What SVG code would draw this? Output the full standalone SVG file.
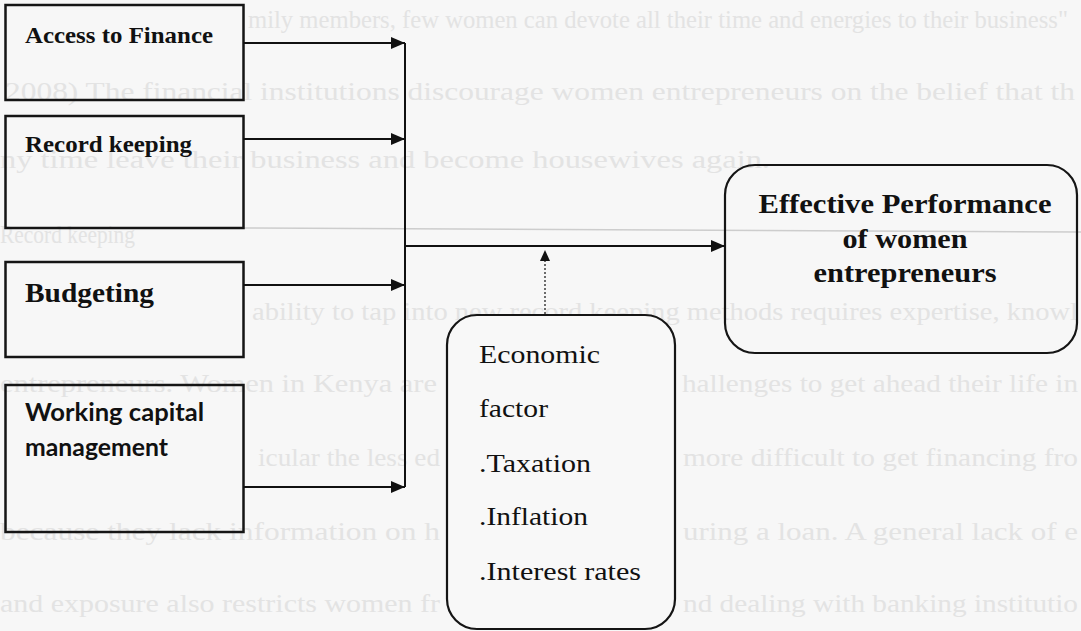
<svg xmlns="http://www.w3.org/2000/svg" width="1081" height="631" viewBox="0 0 1081 631">
<style>
.bg{font-family:"Liberation Serif",serif;font-size:25px;fill:#e3e3e3}
.box{fill:none;stroke:#151515;stroke-width:2.5}
.rbox{stroke:#151515;stroke-width:2.2}
.lbl{font-family:"Liberation Serif",serif;font-weight:bold;fill:#111}
.sans{font-family:Lato,"Liberation Sans",sans-serif;font-weight:bold;fill:#111;font-size:24px}
.reg{font-family:"Liberation Serif",serif;fill:#111;font-size:26px}
.conn{fill:none;stroke:#111;stroke-width:2}
</style>
<defs>
<marker id="ah" markerUnits="userSpaceOnUse" markerWidth="15" markerHeight="12" refX="14" refY="6" orient="auto">
<path d="M0,0 L14,6 L0,12 z" fill="#111"/>
</marker>
<marker id="ahs" markerUnits="userSpaceOnUse" markerWidth="12" markerHeight="10" refX="11" refY="5" orient="auto">
<path d="M0,0 L11,5 L0,10 z" fill="#111"/>
</marker>
</defs>
<rect x="0" y="0" width="1081" height="631" fill="#f7f7f7"/>
<g id="background-page">
<text class="bg" x="248" y="28" textLength="820" lengthAdjust="spacingAndGlyphs">mily members, few women can devote all their time and energies to their business"</text>
<text class="bg" x="5" y="100" textLength="1070" lengthAdjust="spacingAndGlyphs">2008) The financial institutions discourage women entrepreneurs on the belief that th</text>
<text class="bg" x="0" y="168" textLength="770" lengthAdjust="spacingAndGlyphs">ny time leave their business and become housewives again.</text>
<text class="bg" x="0" y="243" textLength="135" lengthAdjust="spacingAndGlyphs">Record keeping</text>
<text class="bg" x="252" y="320" textLength="826" lengthAdjust="spacingAndGlyphs">ability to tap into new record keeping methods requires expertise, knowl</text>
<text class="bg" x="0" y="392" textLength="437" lengthAdjust="spacingAndGlyphs">entrepreneurs. Women in Kenya are</text>
<text class="bg" x="682" y="392" textLength="396" lengthAdjust="spacingAndGlyphs">hallenges to get ahead their life in</text>
<text class="bg" x="258" y="466" textLength="182" lengthAdjust="spacingAndGlyphs">icular the less ed</text>
<text class="bg" x="683" y="466" textLength="395" lengthAdjust="spacingAndGlyphs">more difficult to get financing fro</text>
<text class="bg" x="0" y="540" textLength="440" lengthAdjust="spacingAndGlyphs">because they lack information on h</text>
<text class="bg" x="683" y="540" textLength="395" lengthAdjust="spacingAndGlyphs">uring a loan. A general lack of e</text>
<text class="bg" x="0" y="612" textLength="440" lengthAdjust="spacingAndGlyphs">and exposure also restricts women fr</text>
<text class="bg" x="683" y="612" textLength="395" lengthAdjust="spacingAndGlyphs">nd dealing with banking institutio</text>
<path d="M243,228 L1081,232" stroke="#cdcdcd" stroke-width="1.5" fill="none"/>
</g>
<g id="access-to-finance">
<rect class="box" x="5.5" y="5" width="238" height="95"/>
<text class="lbl" x="25" y="43" font-size="23" textLength="188" lengthAdjust="spacingAndGlyphs">Access to Finance</text>
</g>
<g id="record-keeping">
<rect class="box" x="5.5" y="116" width="238" height="112"/>
<text class="lbl" x="25" y="152" font-size="23" textLength="167" lengthAdjust="spacingAndGlyphs">Record keeping</text>
</g>
<g id="budgeting">
<rect class="box" x="5.5" y="262" width="238" height="95"/>
<text class="lbl" x="25" y="302" font-size="27" textLength="129" lengthAdjust="spacingAndGlyphs">Budgeting</text>
</g>
<g id="working-capital">
<rect class="box" x="5.5" y="385" width="238" height="147"/>
<text class="sans" x="25" y="421" textLength="179" lengthAdjust="spacingAndGlyphs">Working capital</text>
<text class="sans" x="25" y="456" textLength="143" lengthAdjust="spacingAndGlyphs">management</text>
</g>
<g id="economic-factor">
<rect class="rbox" x="447" y="315" width="228" height="314" rx="30" ry="30" fill="#f8f8f8"/>
<text class="reg" x="479" y="363" textLength="121" lengthAdjust="spacingAndGlyphs">Economic</text>
<text class="reg" x="479" y="417" textLength="69" lengthAdjust="spacingAndGlyphs">factor</text>
<text class="reg" x="479" y="472" textLength="112" lengthAdjust="spacingAndGlyphs">.Taxation</text>
<text class="reg" x="479" y="525" textLength="109" lengthAdjust="spacingAndGlyphs">.Inflation</text>
<text class="reg" x="479" y="580" textLength="162" lengthAdjust="spacingAndGlyphs">.Interest rates</text>
</g>
<g id="effective-performance">
<rect class="rbox" x="725" y="165" width="352" height="188" rx="30" ry="30" fill="none"/>
<text class="lbl" x="905" y="213" font-size="28" text-anchor="middle" textLength="293" lengthAdjust="spacingAndGlyphs">Effective Performance</text>
<text class="lbl" x="905" y="248" font-size="28" text-anchor="middle" textLength="125" lengthAdjust="spacingAndGlyphs">of women</text>
<text class="lbl" x="905" y="282" font-size="28" text-anchor="middle" textLength="183" lengthAdjust="spacingAndGlyphs">entrepreneurs</text>
</g>
<g id="connectors">
<path class="conn" d="M243,43 H405" marker-end="url(#ah)"/>
<path class="conn" d="M243,139 H405" marker-end="url(#ah)"/>
<path class="conn" d="M243,285 H405" marker-end="url(#ah)"/>
<path class="conn" d="M243,487 H405" marker-end="url(#ah)"/>
<path class="conn" d="M405,43 V487"/>
<path class="conn" d="M405,246 H725" marker-end="url(#ah)"/>
<path d="M545,314 V250" fill="none" stroke="#222" stroke-width="1.3" stroke-dasharray="2 2" marker-end="url(#ahs)"/>
</g>
</svg>
